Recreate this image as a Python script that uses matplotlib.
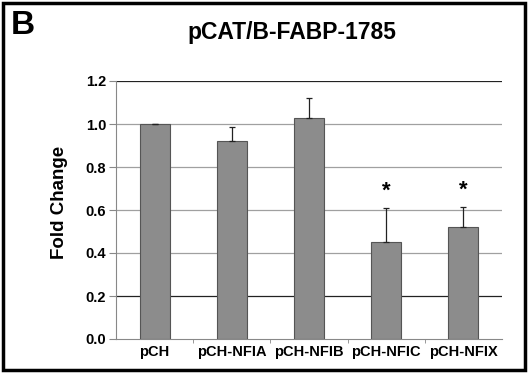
import numpy as np
import matplotlib.pyplot as plt
from matplotlib.patches import Rectangle

# data
constructs = ['pCH', 'pCH-NFIA', 'pCH-NFIB', 'pCH-NFIC', 'pCH-NFIX']
fold_change = [1.0, 0.92, 1.03, 0.45, 0.52]
err_up = [0.0, 0.065, 0.09, 0.16, 0.095]
significant = [False, False, False, True, True]
yticks = [0.0, 0.2, 0.4, 0.6, 0.8, 1.0, 1.2]

fig = plt.figure(figsize=(5.28, 3.73), dpi=100)
plt.rcParams['font.family'] = ['Liberation Sans', 'DejaVu Sans']

# outer frame of the panel
fig.patches.append(Rectangle((0.006, 0.008), 0.988, 0.984, transform=fig.transFigure,
                             fill=False, edgecolor='black', linewidth=2.5))

ax = fig.add_axes([116 / 528, 1 - 339 / 373, 386 / 528, 258 / 373])
x = np.arange(len(constructs))
ax.bar(x, fold_change, width=0.39, color='#8c8c8c', edgecolor='#555555',
       linewidth=0.8, zorder=3)
ax.errorbar(x, fold_change, yerr=[np.zeros(len(x)), err_up], fmt='none',
            ecolor='#222222', elinewidth=0.9, capsize=2, capthick=0.9, zorder=4)

for xi, v, e, s in zip(x, fold_change, err_up, significant):
    if s:
        ax.text(xi, v + e + 0.03, '*', ha='center', va='bottom', fontsize=16,
                fontweight='bold')

ax.set_xlim(-0.5, len(x) - 0.5)
ax.set_ylim(0, 1.2)

# gridlines: outer ones dark, inner ones lighter as in the reference
for t in yticks[1:]:
    col = '#222222' if t in (0.2, 1.2) else '#a0a0a0'
    ax.axhline(t, color=col, linewidth=0.9, zorder=0)

ax.set_yticks(yticks)
ax.set_yticklabels(['%.1f' % t for t in yticks], fontsize=10.5, fontweight='bold')
ax.set_xticks(x)
ax.set_xticklabels(constructs, fontsize=10.5, fontweight='bold')
ax.set_xticks(np.arange(0.5, len(x) - 1, 1), minor=True)
ax.tick_params(axis='x', which='major', length=0, pad=4)
ax.tick_params(axis='x', which='minor', length=3, color='#888888')
ax.tick_params(axis='y', length=5, color='#888888', pad=2)
for side in ['top', 'right']:
    ax.spines[side].set_visible(False)
ax.spines['left'].set_color('#888888')
ax.spines['bottom'].set_color('#888888')
ax.set_ylabel('Fold Change', fontsize=13.5, fontweight='bold')
ax.yaxis.set_label_coords(-0.125, 0.53)

fig.text(292 / 528, 1 - 33 / 373, 'pCAT/B-FABP-1785', ha='center', va='center',
         fontsize=16.5, fontweight='bold')
fig.text(11 / 528, 1 - 26 / 373, 'B', ha='left', va='center', fontsize=24,
         fontweight='bold')

fig.savefig('out.png', dpi=100)
